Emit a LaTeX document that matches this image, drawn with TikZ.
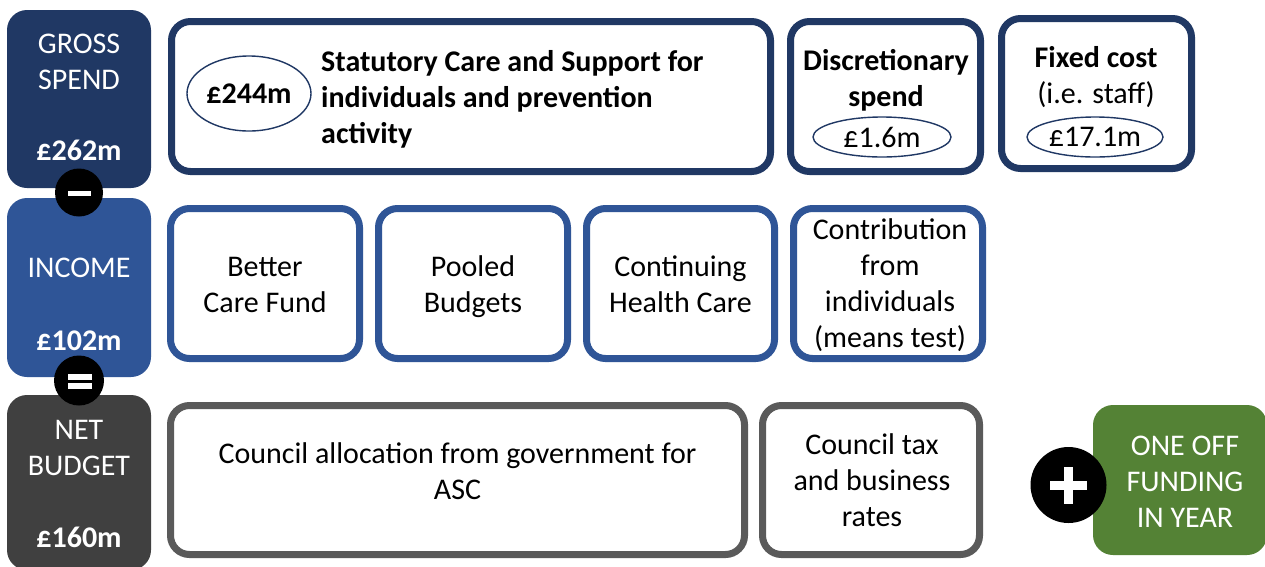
\documentclass[tikz,border=0pt]{standalone}
\usepackage{fontspec}
\setmainfont{Carlito}
\usetikzlibrary{shapes.geometric}
\definecolor{navy}{HTML}{203864}
\definecolor{incblue}{HTML}{2F5597}
\definecolor{netgray}{HTML}{404040}
\definecolor{botgray}{HTML}{5A5A5A}
\definecolor{offgreen}{HTML}{548235}
\begin{document}
\begin{tikzpicture}[x=1pt,y=-1pt,
  fbox/.style={rectangle, rounded corners=20pt, inner sep=0pt, draw=none},
  obox/.style={rectangle, rounded corners=19pt, line width=7pt, fill=white, inner sep=0pt},
  tbox/.style={obox, draw=navy},
  mbox/.style={obox, draw=incblue},
  bbox/.style={obox, draw=botgray},
  txt/.style={font=\fontsize{30}{36}\selectfont, align=center, inner sep=0pt},
  btxt/.style={txt, font=\fontsize{30}{36}\selectfont\bfseries},
  wtxt/.style={txt, text=white},
  wbtxt/.style={btxt, text=white},
  oval/.style={ellipse, draw=navy, line width=1.4pt, inner sep=0pt},
  sym/.style={circle, fill=black, inner sep=0pt}
]
\useasboundingbox (0,0) rectangle (1265,566);
\fill[white] (0,0) rectangle (1265,566);

% left filled boxes
\node[fbox, fill=navy, minimum width=144pt, minimum height=178pt] (gross) at (79,99) {};
\node[fbox, fill=incblue, minimum width=144pt, minimum height=179pt] (income) at (79,287.5) {};
\node[fbox, fill=netgray, minimum width=144pt, minimum height=175pt] (net) at (79,482.5) {};
\node[fbox, fill=offgreen, minimum width=174pt, minimum height=150pt] (oneoff) at (1180,480) {};

\node[wtxt] (grosst) at (79,63.8) {\strut GROSS\\\strut SPEND};
\node[wbtxt, anchor=base] (grossv) at (79,160) {£262m};
\node[wtxt, anchor=base] (incomet) at (79,277) {INCOME};
\node[wbtxt, anchor=base] (incomev) at (79,350) {£102m};
\node[wtxt] (nett) at (79,450.3) {\strut NET\\\strut BUDGET};
\node[wbtxt, anchor=base] (netv) at (79,547) {£160m};
\node[wtxt] (oneofft) at (1185,483.8) {\strut ONE OFF\\\strut FUNDING\\\strut IN YEAR};

% top row
\node[tbox, minimum width=599pt, minimum height=150pt] (stat) at (471,96.5) {};
\node[tbox, minimum width=190pt, minimum height=150pt] (disc) at (885.5,96.5) {};
\node[tbox, minimum width=190pt, minimum height=150pt] (fixed) at (1096.5,93.5) {};

\node[oval, minimum width=124pt, minimum height=75pt, font=\fontsize{30}{36}\selectfont\bfseries] (v244) at (249,93.5) {£244m};
\node[btxt, align=left, anchor=west] (statt) at (321,99.8) {\strut Statutory Care and Support for\\\strut individuals and prevention\\\strut activity};

\node[btxt] (disct) at (886,81) {\strut Discretionary\\\strut spend};
\node[oval, minimum width=138pt, minimum height=40pt, font=\fontsize{30}{36}\selectfont] (v16) at (882,137) {£1.6m};

\node[txt] (fixedt) at (1096,78) {\textbf{\strut Fixed cost}\\\strut (i.e. staff)};
\node[oval, minimum width=136pt, minimum height=40pt, font=\fontsize{30}{36}\selectfont] (v171) at (1095,137) {£17.1m};

% middle row
\node[mbox, minimum width=189pt, minimum height=150pt] (bcf) at (265,283.5) {};
\node[mbox, minimum width=189pt, minimum height=150pt] (pool) at (473,283.5) {};
\node[mbox, minimum width=188pt, minimum height=150pt] (chc) at (680.5,283.5) {};
\node[mbox, minimum width=189pt, minimum height=150pt] (contrib) at (888,283.5) {};

\node[txt] (bcft) at (265,286.8) {\strut Better\\\strut Care Fund};
\node[txt] (poolt) at (473,286.8) {\strut Pooled\\\strut Budgets};
\node[txt] (chct) at (680.5,286.8) {\strut Continuing\\\strut Health Care};
\node[txt] (contribt) at (890,286.5) {\strut Contribution\\\strut from\\\strut individuals\\\strut (means test)};

% bottom row
\node[bbox, minimum width=574pt, minimum height=149pt] (alloc) at (457.5,480) {};
\node[bbox, minimum width=217pt, minimum height=149pt] (ctax) at (871,480) {};

\node[txt] (alloct) at (457.5,474.3) {\strut Council allocation from government for\\\strut ASC};
\node[txt] (ctaxt) at (872,482.8) {\strut Council tax\\\strut and business\\\strut rates};

% operator circles
\node[sym, minimum size=48pt] (minus) at (79,192.5) {};
\fill[white] (68,191) rectangle (91,196);
\node[sym, minimum size=50pt] (equals) at (79,380.5) {};
\fill[white] (68,374) rectangle (92,379.5);
\fill[white] (68,383) rectangle (92,388.5);
\node[sym, minimum size=76pt] (plus) at (1068.5,485) {};
\fill[white] (1050,480.5) rectangle (1087,489.5);
\fill[white] (1064,466.5) rectangle (1073,503.5);
\end{tikzpicture}
\end{document}
